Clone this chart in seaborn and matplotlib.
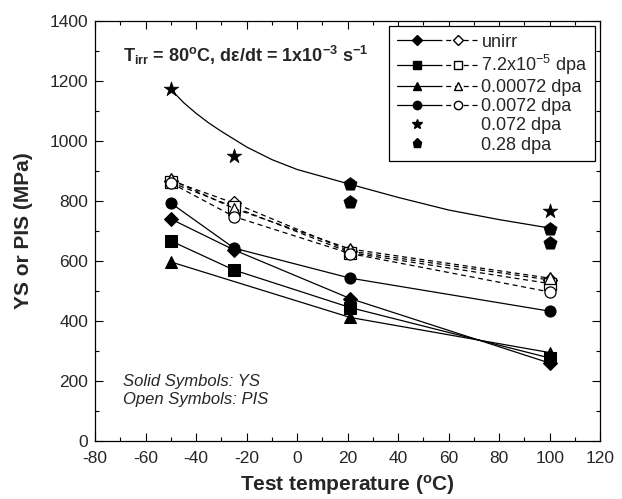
import numpy as np
import pandas as pd
import seaborn as sns
import matplotlib.pyplot as plt
from matplotlib.lines import Line2D
from matplotlib.legend_handler import HandlerTuple
from matplotlib.ticker import MultipleLocator

# test temperatures (C)
temps = [-50, -25, 21, 100]

# yield strength, solid symbols (MPa)
ys_unirr = [740, 637, 475, 260]
ys_72e5 = [667, 570, 445, 277]
ys_00072_t = [-50, 21, 100]          # no point at -25
ys_00072 = [597, 412, 295]
ys_0072 = [793, 643, 543, 433]

# plastic instability stress, open symbols (MPa)
pis_unirr = [868, 793, 633, 537]
pis_72e5 = [862, 780, 628, 525]
pis_00072 = [872, 775, 640, 543]
pis_0072 = [860, 748, 625, 497]

# 0.072 dpa (stars) and 0.28 dpa (pentagons)
star_t = [-50, -25, 100]
star_v = [1172, 950, 767]
pent_t = [21, 21, 100, 100]
pent_v = [857, 797, 707, 660]

# fitted curve through the high-dose points
fit_t = [-50, -45, -40, -35, -30, -20, -10, 0, 20, 40, 60, 80, 100]
fit_v = [1172, 1128, 1092, 1060, 1032, 980, 938, 905, 858, 812, 770, 738, 710]

labels = ['unirr', '7.2x10$^{-5}$ dpa', '0.00072 dpa', '0.0072 dpa',
          '0.072 dpa', '0.28 dpa']

sns.set_style('ticks')
plt.rcParams['font.family'] = ['Liberation Sans', 'DejaVu Sans']
plt.rcParams['mathtext.fontset'] = 'custom'
plt.rcParams['mathtext.rm'] = 'Liberation Sans'
plt.rcParams['mathtext.it'] = 'Liberation Sans:italic'
plt.rcParams['mathtext.bf'] = 'Liberation Sans:bold'
plt.rcParams['axes.unicode_minus'] = False

fig = plt.figure(figsize=(6.22, 4.99), dpi=100)
ax = fig.add_axes([0.153, 0.116, 0.812, 0.842])

lw = 0.9
ms = 8
solid = [(temps, ys_unirr, 'D'), (temps, ys_72e5, 's'),
         (ys_00072_t, ys_00072, '^'), (temps, ys_0072, 'o')]
opens = [(temps, pis_unirr, 'D'), (temps, pis_72e5, 's'),
         (temps, pis_00072, '^'), (temps, pis_0072, 'o')]

for t, v, m in opens:
    sns.lineplot(x=t, y=v, ax=ax, color='k', lw=lw, ls=(0, (4, 3)),
                 marker=m, markersize=ms if m != 'D' else ms - 1,
                 markerfacecolor='white', markeredgecolor='k',
                 markeredgewidth=0.9, estimator=None, sort=False)
for t, v, m in solid:
    sns.lineplot(x=t, y=v, ax=ax, color='k', lw=lw, marker=m,
                 markersize=ms if m != 'D' else ms - 1,
                 markerfacecolor='k', markeredgecolor='k',
                 estimator=None, sort=False)

sns.lineplot(x=fit_t, y=fit_v, ax=ax, color='k', lw=lw,
             estimator=None, sort=False)
sns.scatterplot(x=star_t, y=star_v, ax=ax, marker='*', s=120,
                color='k', edgecolor='k', linewidth=0.5, zorder=5)
sns.scatterplot(x=pent_t, y=pent_v, ax=ax, marker='p', s=100,
                color='k', edgecolor='k', linewidth=0.5, zorder=5)

ax.set_xlim(-80, 120)
ax.set_ylim(0, 1400)
ax.xaxis.set_major_locator(MultipleLocator(20))
ax.xaxis.set_minor_locator(MultipleLocator(10))
ax.yaxis.set_major_locator(MultipleLocator(200))
ax.yaxis.set_minor_locator(MultipleLocator(100))
ax.tick_params(which='both', direction='in', top=True, right=True,
               labelsize=12.5, width=0.8, color='k', pad=5)
ax.tick_params(axis='x', which='both', pad=7)
ax.tick_params(which='major', length=6)
ax.tick_params(which='minor', length=3)
for sp in ax.spines.values():
    sp.set_color('k')
    sp.set_linewidth(0.9)

ax.set_xlabel('Test temperature ($^{\\mathbf{o}}$C)', fontsize=15,
              fontweight='bold', labelpad=5)
ax.set_ylabel('YS or PIS (MPa)', fontsize=15, fontweight='bold', labelpad=12)

ax.text(-69, 1285, 'T$_{\\mathbf{irr}}$ = 80$^{\\mathbf{o}}$C, d\u03b5/dt = '
        '1x10$^{\\mathbf{-3}}$ s$^{\\mathbf{-1}}$',
        fontsize=13, fontweight='bold', va='center')
ax.text(-69, 200, 'Solid Symbols: YS', fontsize=12, style='italic',
        va='center')
ax.text(-69, 138, 'Open Symbols: PIS', fontsize=12, style='italic',
        va='center')

# legend: filled marker on solid line + open marker on dashed line
blank = Line2D([], [], ls='none')
lms = 6
handles = []
for m in ['D', 's', '^', 'o']:
    msz = lms if m != 'D' else lms - 0.5
    h1 = Line2D([], [], color='k', lw=lw, marker=m, markersize=msz,
                markerfacecolor='k', markeredgecolor='k')
    h2 = Line2D([], [], color='k', lw=lw, ls=(0, (4, 3)), marker=m,
                markersize=msz, markerfacecolor='white', markeredgecolor='k')
    handles.append((h1, h2))
handles.append((Line2D([], [], ls='none', marker='*', color='k',
                       markersize=7), blank))
handles.append((Line2D([], [], ls='none', marker='p', color='k',
                       markersize=6.5), blank))

leg = ax.legend(handles, labels, loc='upper right', fontsize=13,
                handler_map={tuple: HandlerTuple(ndivide=None, pad=0)},
                handlelength=4.5, handletextpad=0.2, labelspacing=0.12,
                borderaxespad=0.3, fancybox=False, framealpha=1,
                edgecolor='k', borderpad=0.4)
leg.get_frame().set_linewidth(0.9)

plt.savefig('out.png', dpi=100)
plt.close()
